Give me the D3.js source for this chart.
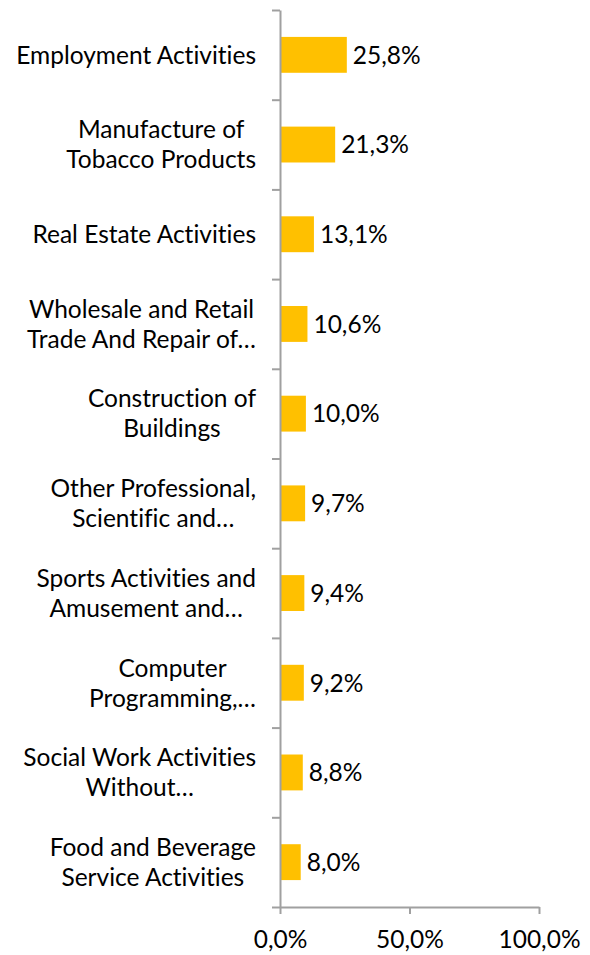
<!DOCTYPE html>
<html>
<head>
<meta charset="utf-8">
<script src="https://cdn.jsdelivr.net/npm/d3@7"></script>
<style>
  html, body { margin: 0; padding: 0; background: #fff; }
  svg text { font-family: Lato, "Open Sans", sans-serif; fill: #000; font-variant-ligatures: none; font-feature-settings: "liga" 0; }
</style>
</head>
<body>
<svg id="chart" width="590" height="955"></svg>
<script>
const categories = [
  "Employment Activities",
  "Manufacture of Tobacco Products",
  "Real Estate Activities",
  "Wholesale and Retail Trade And Repair of…",
  "Construction of Buildings",
  "Other Professional, Scientific and…",
  "Sports Activities and Amusement and…",
  "Computer Programming,…",
  "Social Work Activities Without…",
  "Food and Beverage Service Activities"
];
const labelLines = [
  ["Employment Activities"],
  ["Manufacture of", "Tobacco Products"],
  ["Real Estate Activities"],
  ["Wholesale and Retail", "Trade And Repair of…"],
  ["Construction of", "Buildings"],
  ["Other Professional,", "Scientific and…"],
  ["Sports Activities and", "Amusement and…"],
  ["Computer", "Programming,…"],
  ["Social Work Activities", "Without…"],
  ["Food and Beverage", "Service Activities"]
];
const values = [25.8, 21.3, 13.1, 10.6, 10.0, 9.7, 9.4, 9.2, 8.8, 8.0];
const xTicks = [0, 50, 100];

const fontSize = 24.5;
const axisColor = "#a0a0a0";
const barColor = "#FFC000";
const fmt = v => v.toFixed(1).replace(".", ",") + "%";

const svg = d3.select("#chart");
const plot = { left: 280, right: 539, top: 10, bottom: 907 };

const x = d3.scaleLinear().domain([0, 100]).range([plot.left, plot.right]);
const y = d3.scaleBand().domain(categories).range([plot.top, plot.bottom])
  .paddingInner(0.6).paddingOuter(0.3);
const yIdx = d3.scaleLinear().domain([0, categories.length]).range([plot.top, plot.bottom]);

// bars
svg.append("g").selectAll("rect").data(values).join("rect")
  .attr("x", x(0))
  .attr("y", (d, i) => y(categories[i]))
  .attr("width", d => x(d) - x(0))
  .attr("height", y.bandwidth())
  .attr("fill", barColor);

// value labels
svg.append("g").selectAll("text").data(values).join("text")
  .attr("x", d => x(d) + 6)
  .attr("y", (d, i) => y(categories[i]) + y.bandwidth() / 2)
  .attr("dy", "0.36em")
  .style("font-size", fontSize + "px")
  .text(d => fmt(d));

// y axis (category boundaries)
const yAxis = svg.append("g").attr("transform", `translate(${plot.left},0)`)
  .call(d3.axisLeft(yIdx).tickValues(d3.range(categories.length + 1))
    .tickSize(8).tickSizeOuter(0).tickFormat(""));
yAxis.selectAll("path,line").attr("stroke", axisColor).attr("stroke-width", 2);

// x axis
const xAxis = svg.append("g").attr("transform", `translate(0,${plot.bottom})`)
  .call(d3.axisBottom(x).tickValues(xTicks).tickSize(7).tickSizeOuter(0)
    .tickFormat(fmt));
xAxis.selectAll("path,line").attr("stroke", axisColor).attr("stroke-width", 2);
xAxis.selectAll("text").style("font-size", fontSize + "px").attr("fill", "#000")
  .style("font-family", "Lato, sans-serif")
  .attr("y", 23.5).attr("dy", "0.71em");

// category labels
const labelRight = 256;
const lineH = 30;
const lg = svg.append("g");
labelLines.forEach((lines, i) => {
  const cy = y(categories[i]) + y.bandwidth() / 2;
  const g = lg.append("g");
  const texts = lines.map((ln, j) => g.append("text")
    .style("font-size", fontSize + "px")
    .attr("text-anchor", "middle")
    .attr("y", cy + (j - (lines.length - 1) / 2) * lineH)
    .attr("dy", "0.36em")
    .text(ln));
  const w = d3.max(texts, t => t.node().getComputedTextLength());
  texts.forEach(t => t.attr("x", labelRight - w / 2));
});
</script>
</body>
</html>
